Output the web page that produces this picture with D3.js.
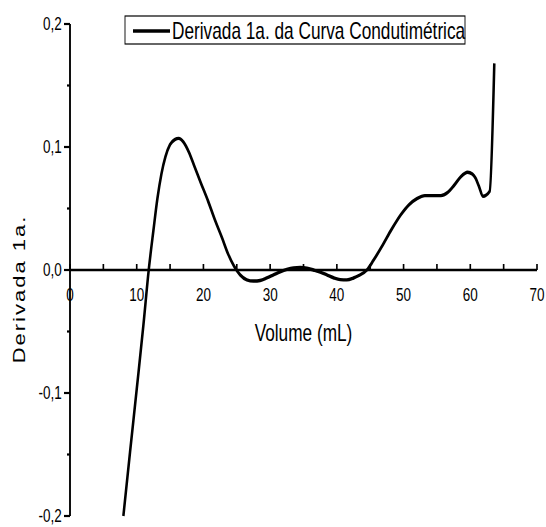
<!DOCTYPE html>
<html>
<head>
<meta charset="utf-8">
<script src="https://cdn.jsdelivr.net/npm/d3@7"></script>
<style>
  html, body { margin: 0; padding: 0; background: #fff; }
  svg { display: block; }
  text { font-family: "Liberation Sans", Arial, sans-serif; fill: #000; }
</style>
</head>
<body>
<svg id="chart" width="546" height="527"></svg>
<script>
// Volume added (mL)
const volume = [8.0, 9.0, 10.0, 11.0, 11.8, 12.5, 13.1, 13.7, 14.3, 15.0, 15.7, 16.3, 17.0, 17.8, 18.6,
  19.6, 20.7, 21.7, 22.8, 23.7, 24.6, 25.5, 26.5, 27.5, 28.5, 29.5, 30.5, 31.5, 32.5, 33.5, 34.5,
  35.5, 36.5, 37.5, 38.5, 39.5, 40.5, 41.5, 42.5, 43.3, 44.5, 45.5, 46.9, 48.2, 49.6, 50.8, 52.0,
  53.2, 54.5, 55.6, 56.6, 57.6, 58.6, 59.6, 60.3, 60.8, 61.3, 61.9, 62.9, 63.6];
// First derivative of the conductometric curve
const derivada = [-0.2, -0.148, -0.097, -0.045, 0.0, 0.032, 0.058, 0.078, 0.092, 0.102, 0.106, 0.107, 0.104, 0.096, 0.085,
  0.071, 0.056, 0.041, 0.026, 0.013, 0.003, -0.004, -0.008, -0.009, -0.0085, -0.0065, -0.004, -0.0015, 0.0005, 0.0017, 0.002,
  0.0015, 0.0, -0.0017, -0.004, -0.0063, -0.0078, -0.008, -0.0065, -0.0045, 0.0, 0.008, 0.0205, 0.033, 0.045, 0.053, 0.058,
  0.0605, 0.0605, 0.0605, 0.063, 0.069, 0.076, 0.0795, 0.078, 0.0745, 0.068, 0.060, 0.064, 0.168];

const xTicks = [0, 10, 20, 30, 40, 50, 60, 70];
const xMinor = [5, 15, 25, 35, 45, 55, 65];
const yTicks = [-0.2, -0.1, 0.0, 0.1, 0.2];
const yMinor = [-0.15, -0.05, 0.05, 0.15];
const legendLabel = "Derivada 1a. da Curva Condutimétrica";
const xTitle = "Volume (mL)";
const yTitle = "Derivada 1a.";

const fmt = d => d3.format(".1f")(d).replace(".", ",").replace("−", "-");

// Whole figure is drawn horizontally compressed
const sx = 0.75;
const svg = d3.select("#chart");
const g = svg.append("g").attr("transform", `scale(${sx},1)`);

const x = d3.scaleLinear().domain([0, 70]).range([70 / sx, 537 / sx]);
const y = d3.scaleLinear().domain([-0.2, 0.2]).range([516, 24]);

// Y axis (left) with outward ticks
g.append("line")
  .attr("x1", x(0)).attr("x2", x(0))
  .attr("y1", y(0.2)).attr("y2", y(-0.2))
  .attr("stroke", "#000").attr("stroke-width", 2.5);
g.selectAll(".ytick").data(yTicks).join("line")
  .attr("x1", x(0) - 8).attr("x2", x(0))
  .attr("y1", d => y(d)).attr("y2", d => y(d))
  .attr("stroke", "#000").attr("stroke-width", 2.2);
g.selectAll(".ymin").data(yMinor).join("line")
  .attr("x1", x(0) - 4).attr("x2", x(0))
  .attr("y1", d => y(d)).attr("y2", d => y(d))
  .attr("stroke", "#000").attr("stroke-width", 2.2);
g.selectAll(".ylab").data(yTicks).join("text")
  .attr("x", x(0) - 11).attr("y", d => y(d))
  .attr("text-anchor", "end").attr("dominant-baseline", "central")
  .attr("font-size", 18)
  .text(fmt);

// X axis through zero with upward ticks
g.append("line")
  .attr("x1", x(0)).attr("x2", x(70))
  .attr("y1", y(0)).attr("y2", y(0))
  .attr("stroke", "#000").attr("stroke-width", 2.4);
g.selectAll(".xtick").data(xTicks.concat(xMinor)).join("line")
  .attr("x1", d => x(d)).attr("x2", d => x(d))
  .attr("y1", y(0)).attr("y2", y(0) - 6)
  .attr("stroke", "#000").attr("stroke-width", 2.2);
g.selectAll(".xlab").data(xTicks).join("text")
  .attr("x", d => x(d)).attr("y", y(0) + 31)
  .attr("text-anchor", "middle")
  .attr("font-size", 18)
  .text(d => d);

// Axis titles
g.append("text")
  .attr("x", x(35)).attr("y", 341)
  .attr("text-anchor", "middle").attr("font-size", 23)
  .text(xTitle);
g.append("text")
  .attr("transform", `translate(${25 / sx},289) rotate(-90)`)
  .attr("text-anchor", "middle").attr("font-size", 22)
  .attr("letter-spacing", 2)
  .text(yTitle);

// Curve
const line = d3.line()
  .x((d, i) => x(volume[i]))
  .y(d => y(d))
  .curve(d3.curveMonotoneX);
g.append("path")
  .datum(derivada)
  .attr("d", line)
  .attr("fill", "none")
  .attr("stroke", "#000")
  .attr("stroke-width", 3.4)
  .attr("stroke-linejoin", "round");

// Legend
const lg = g.append("g");
lg.append("rect")
  .attr("x", 125 / sx).attr("y", 16)
  .attr("width", 340 / sx).attr("height", 28)
  .attr("fill", "#fff").attr("stroke", "#000").attr("stroke-width", 1.2);
lg.append("line")
  .attr("x1", 133 / sx).attr("x2", 170 / sx)
  .attr("y1", 31).attr("y2", 31)
  .attr("stroke", "#000").attr("stroke-width", 3.4);
lg.append("text")
  .attr("x", 172 / sx).attr("y", 39)
  .attr("font-size", 23)
  .text(legendLabel);
</script>
</body>
</html>
